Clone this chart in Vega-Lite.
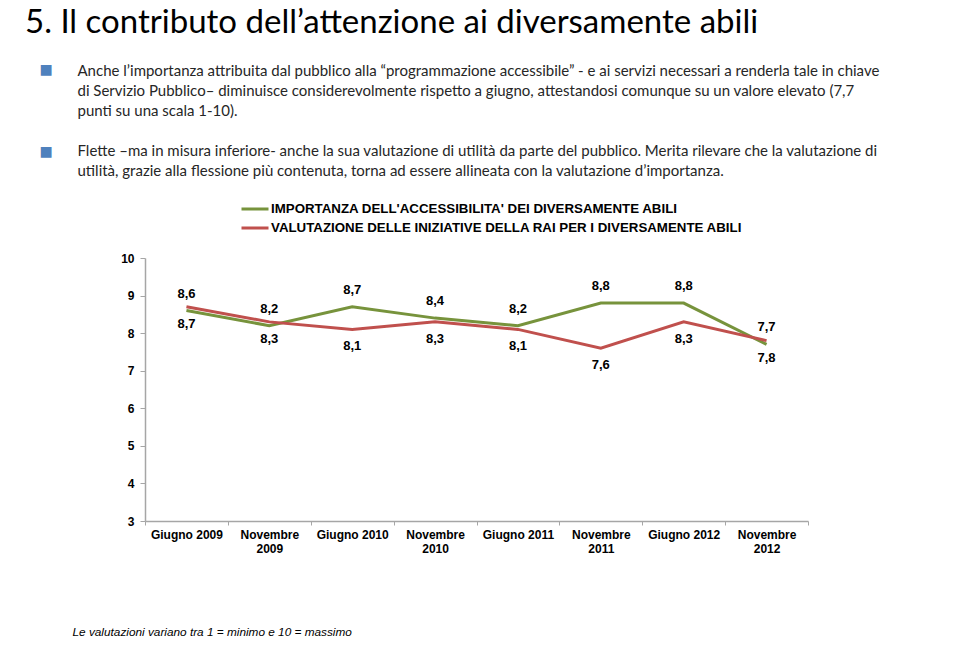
{
  "$schema": "https://vega.github.io/schema/vega-lite/v6.json",
  "autosize": {"type": "none"},
  "padding": {"left": 145, "top": 258, "right": 151, "bottom": 141},
  "width": 663,
  "height": 263,
  "background": "white",
  "title": {
    "text": "5. Il contributo dell’attenzione ai diversamente abili",
    "subtitle": ["\u2800\u2009\u200a■", "\u2800\u2009\u200a■"],
    "anchor": "start",
    "frame": "group",
    "dx": -120,
    "offset": -96,
    "font": "Lato",
    "fontSize": 33,
    "fontWeight": "normal",
    "color": "#000000",
    "subtitleFont": "DejaVu Sans",
    "subtitleFontSize": 14,
    "subtitleColor": "#4F81BD",
    "subtitleLineHeight": 82,
    "subtitlePadding": 23
  },
  "config": {
    "font": "Liberation Sans",
    "view": {"stroke": null},
    "locale": {"number": {"decimal": ",", "thousands": ".", "grouping": [3], "currency": ["€", ""]}}
  },
  "data": {
    "values": [
      {"periodo": "Giugno 2009", "serie": "IMPORTANZA DELL'ACCESSIBILITA' DEI DIVERSAMENTE ABILI", "valore": 8.6},
      {"periodo": "Novembre 2009", "serie": "IMPORTANZA DELL'ACCESSIBILITA' DEI DIVERSAMENTE ABILI", "valore": 8.2},
      {"periodo": "Giugno 2010", "serie": "IMPORTANZA DELL'ACCESSIBILITA' DEI DIVERSAMENTE ABILI", "valore": 8.7},
      {"periodo": "Novembre 2010", "serie": "IMPORTANZA DELL'ACCESSIBILITA' DEI DIVERSAMENTE ABILI", "valore": 8.4},
      {"periodo": "Giugno 2011", "serie": "IMPORTANZA DELL'ACCESSIBILITA' DEI DIVERSAMENTE ABILI", "valore": 8.2},
      {"periodo": "Novembre 2011", "serie": "IMPORTANZA DELL'ACCESSIBILITA' DEI DIVERSAMENTE ABILI", "valore": 8.8},
      {"periodo": "Giugno 2012", "serie": "IMPORTANZA DELL'ACCESSIBILITA' DEI DIVERSAMENTE ABILI", "valore": 8.8},
      {"periodo": "Novembre 2012", "serie": "IMPORTANZA DELL'ACCESSIBILITA' DEI DIVERSAMENTE ABILI", "valore": 7.7},
      {"periodo": "Giugno 2009", "serie": "VALUTAZIONE DELLE INIZIATIVE DELLA RAI PER I DIVERSAMENTE ABILI", "valore": 8.7},
      {"periodo": "Novembre 2009", "serie": "VALUTAZIONE DELLE INIZIATIVE DELLA RAI PER I DIVERSAMENTE ABILI", "valore": 8.3},
      {"periodo": "Giugno 2010", "serie": "VALUTAZIONE DELLE INIZIATIVE DELLA RAI PER I DIVERSAMENTE ABILI", "valore": 8.1},
      {"periodo": "Novembre 2010", "serie": "VALUTAZIONE DELLE INIZIATIVE DELLA RAI PER I DIVERSAMENTE ABILI", "valore": 8.3},
      {"periodo": "Giugno 2011", "serie": "VALUTAZIONE DELLE INIZIATIVE DELLA RAI PER I DIVERSAMENTE ABILI", "valore": 8.1},
      {"periodo": "Novembre 2011", "serie": "VALUTAZIONE DELLE INIZIATIVE DELLA RAI PER I DIVERSAMENTE ABILI", "valore": 7.6},
      {"periodo": "Giugno 2012", "serie": "VALUTAZIONE DELLE INIZIATIVE DELLA RAI PER I DIVERSAMENTE ABILI", "valore": 8.3},
      {"periodo": "Novembre 2012", "serie": "VALUTAZIONE DELLE INIZIATIVE DELLA RAI PER I DIVERSAMENTE ABILI", "valore": 7.8}
    ]
  },
  "encoding": {
    "x": {
      "field": "periodo",
      "type": "nominal",
      "sort": null,
      "scale": {"type": "band", "paddingInner": 0, "paddingOuter": 0},
      "axis": {
        "title": "Le valutazioni variano tra 1 = minimo e 10 = massimo",
        "titleX": -73,
        "titleY": 110,
        "titleAlign": "left",
        "titleAnchor": "start",
        "titleBaseline": "middle",
        "titleFont": "Liberation Sans",
        "titleFontStyle": "italic",
        "titleFontWeight": "normal",
        "titleFontSize": 11.8,
        "titleColor": "#000000",
        "labelAngle": 0,
        "labelExpr": "indexof(datum.label, 'Novembre') >= 0 ? split(datum.label, ' ') : datum.label",
        "tickBand": "extent",
        "tickSize": 4,
        "labelPadding": 4,
        "labelFontWeight": "bold",
        "labelFontSize": 12,
        "labelLineHeight": 14,
        "labelColor": "#000000",
        "domainColor": "#A6A6A6",
        "domainWidth": 1.5,
        "tickColor": "#A6A6A6",
        "grid": false
      }
    },
    "y": {
      "field": "valore",
      "type": "quantitative",
      "scale": {"domain": [3, 10], "nice": false, "zero": false},
      "axis": {
        "values": [3, 4, 5, 6, 7, 8, 9, 10],
        "title": [
          "Anche l’importanza attribuita dal pubblico alla “programmazione accessibile” - e ai servizi necessari a renderla tale in chiave",
          "di Servizio Pubblico– diminuisce considerevolmente rispetto a giugno, attestandosi comunque su un valore elevato (7,7",
          "punti su una scala 1-10).",
          "\u2800",
          "Flette –ma in misura inferiore- anche la sua valutazione di utilità da parte del pubblico. Merita rilevare che la valutazione di",
          "utilità, grazie alla flessione più contenuta, torna ad essere allineata con la valutazione d’importanza."
        ],
        "titleAngle": 0,
        "titleAlign": "left",
        "titleAnchor": "start",
        "titleBaseline": "alphabetic",
        "titleX": -68,
        "titleY": -183,
        "titleFont": "Lato",
        "titleFontSize": 15,
        "titleFontWeight": "normal",
        "titleColor": "#262626",
        "titleLineHeight": 20,
        "titleLimit": 0,
        "tickSize": 5,
        "labelPadding": 6,
        "labelFontWeight": "bold",
        "labelFontSize": 12,
        "labelColor": "#000000",
        "domainColor": "#A6A6A6",
        "domainWidth": 1.5,
        "tickColor": "#A6A6A6",
        "grid": false
      }
    },
    "color": {
      "field": "serie",
      "type": "nominal",
      "scale": {
        "domain": ["IMPORTANZA DELL'ACCESSIBILITA' DEI DIVERSAMENTE ABILI", "VALUTAZIONE DELLE INIZIATIVE DELLA RAI PER I DIVERSAMENTE ABILI"],
        "range": ["#77933C", "#C0504D"]
      },
      "legend": {
        "orient": "none",
        "legendX": 95,
        "legendY": -56,
        "direction": "vertical",
        "title": null,
        "symbolType": "stroke",
        "symbolSize": 729,
        "symbolStrokeWidth": 3,
        "clipHeight": 14,
        "labelFont": "Liberation Sans",
        "labelFontSize": 13.3,
        "labelFontWeight": "bold",
        "labelColor": "#000000",
        "labelLimit": 0,
        "labelOffset": 1,
        "rowPadding": 5,
        "padding": 0
      }
    }
  },
  "layer": [
    {"mark": {"type": "line", "strokeWidth": 3}},
    {
      "transform": [{"filter": "datum.serie === \"IMPORTANZA DELL'ACCESSIBILITA' DEI DIVERSAMENTE ABILI\""}],
      "mark": {"type": "text", "dy": -17, "fontSize": 13, "fontWeight": "bold", "color": "#000000", "baseline": "middle"},
      "encoding": {"text": {"field": "valore", "type": "quantitative", "format": ".1f"}, "color": {"value": "#000000"}}
    },
    {
      "transform": [{"filter": "datum.serie === \"VALUTAZIONE DELLE INIZIATIVE DELLA RAI PER I DIVERSAMENTE ABILI\""}],
      "mark": {"type": "text", "dy": 17, "fontSize": 13, "fontWeight": "bold", "color": "#000000", "baseline": "middle"},
      "encoding": {"text": {"field": "valore", "type": "quantitative", "format": ".1f"}, "color": {"value": "#000000"}}
    }
  ]
}
